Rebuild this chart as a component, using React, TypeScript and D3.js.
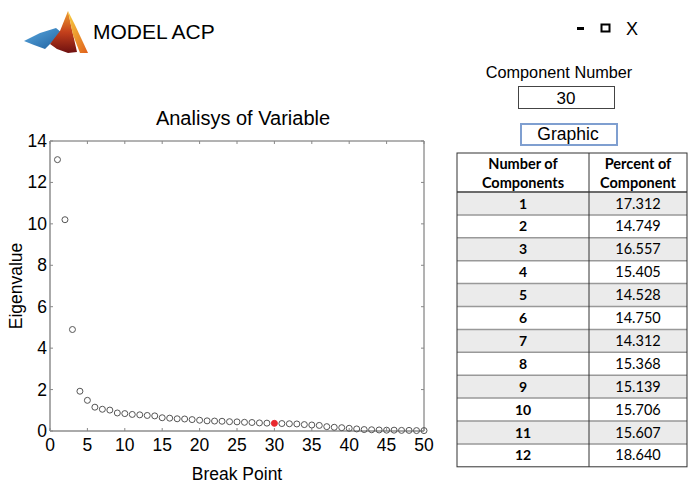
import React from "react";
import * as d3 from "d3";

const breakPoints = d3.range(1, 51);
const eigenvalues = [
  13.1, 10.2, 4.9, 1.92, 1.48, 1.15, 1.05, 1.01, 0.87, 0.84,
  0.8, 0.78, 0.75, 0.73, 0.64, 0.62, 0.59, 0.58, 0.55, 0.52,
  0.49, 0.48, 0.47, 0.45, 0.44, 0.42, 0.41, 0.39, 0.38, 0.37,
  0.36, 0.35, 0.34, 0.31, 0.29, 0.27, 0.21, 0.18, 0.16, 0.13,
  0.1, 0.07, 0.06, 0.05, 0.04, 0.04, 0.03, 0.03, 0.02, 0.02,
];
const selectedComponent = 30;
const xTicks = d3.range(0, 51, 5);
const yTicks = d3.range(0, 15, 2);

const tableComponents = ["1", "2", "3", "4", "5", "6", "7", "8", "9", "10", "11", "12"];
const tablePercents = ["17.312", "14.749", "16.557", "15.405", "14.528", "14.750", "14.312", "15.368", "15.139", "15.706", "15.607", "18.640"];

const FONT = "Arial, 'Liberation Sans', sans-serif";
const TFONT = "Lato, 'Open Sans', sans-serif";

export default function App() {
  const x = d3.scaleLinear().domain([0, 50]).range([50, 424]);
  const y = d3.scaleLinear().domain([0, 14]).range([431, 141]);

  const tLeft = 457, tMid = 589, tRight = 687, tTop = 153, headBottom = 192, rowH = 22.9;

  return (
    <div style={{ position: "absolute", left: 0, top: 0 }}>
      <svg width={692} height={486} style={{ display: "block", background: "#fff" }}>
        <defs>
          <linearGradient id="gBlue" x1="0" y1="0" x2="1" y2="1">
            <stop offset="0" stopColor="#5aa9e0" />
            <stop offset="1" stopColor="#1f5f9e" />
          </linearGradient>
          <linearGradient id="gRed" x1="0" y1="0" x2="0" y2="1">
            <stop offset="0" stopColor="#f0a030" />
            <stop offset="0.5" stopColor="#c4401c" />
            <stop offset="1" stopColor="#6e1010" />
          </linearGradient>
          <linearGradient id="gOrange" x1="0" y1="0" x2="1" y2="1">
            <stop offset="0" stopColor="#f8d040" />
            <stop offset="1" stopColor="#e0601c" />
          </linearGradient>
        </defs>

        {/* logo */}
        <g>
          <polygon points="24,41 40,33 56,28 62,33 52,42 45,49 34,45" fill="url(#gBlue)" />
          <polygon points="50,44 60,31 68,11 72,30 77,52 68,53 57,49" fill="url(#gRed)" />
          <polygon points="68,11 75,25 88,53 80,53 73,35" fill="url(#gOrange)" />
        </g>
        <text x={93} y={39} fontFamily={FONT} fontSize={21} fill="#000">MODEL ACP</text>

        {/* window controls */}
        <rect x={577} y={27} width={7} height={3} fill="#000" />
        <rect x={601.5} y={24.5} width={8} height={7} fill="none" stroke="#000" strokeWidth={2} />
        <text x={626} y={35} fontFamily={FONT} fontSize={18} fill="#000">X</text>

        {/* component number */}
        <text x={559} y={78} textAnchor="middle" fontFamily={FONT} fontSize={16.3} fill="#000">Component Number</text>
        <rect x={518.5} y={86.5} width={96} height={22} fill="#fff" stroke="#444" strokeWidth={1} />
        <text x={566} y={104} textAnchor="middle" fontFamily={FONT} fontSize={17} fill="#000">30</text>
        <rect x={521} y={124} width={96} height={21} fill="#fff" stroke="#7f9fd0" strokeWidth={2} />
        <text x={568} y={140} textAnchor="middle" fontFamily={FONT} fontSize={17.5} fill="#000">Graphic</text>

        {/* plot */}
        <text x={243} y={125} textAnchor="middle" fontFamily={FONT} fontSize={20} fill="#000">Analisys of Variable</text>
        <line x1={50} x2={424} y1={141} y2={141} stroke="#666" strokeWidth={1} />
        <line x1={424} x2={424} y1={141} y2={431} stroke="#666" strokeWidth={1} />
        <line x1={50} x2={50} y1={141} y2={431} stroke="#aaa" strokeWidth={2} />
        <line x1={50} x2={424} y1={431} y2={431} stroke="#aaa" strokeWidth={2} />
        {yTicks.map((t) => (
          <g key={"y" + t}>
            <line x1={50} x2={53} y1={y(t)} y2={y(t)} stroke="#888" />
            <line x1={421} x2={424} y1={y(t)} y2={y(t)} stroke="#888" />
            <text x={47} y={y(t) + 6} textAnchor="end" fontFamily={FONT} fontSize={17.5} fill="#000">{t}</text>
          </g>
        ))}
        {xTicks.map((t) => (
          <g key={"x" + t}>
            <line x1={x(t)} x2={x(t)} y1={141} y2={144} stroke="#888" />
            <line x1={x(t)} x2={x(t)} y1={428} y2={431} stroke="#888" />
            <text x={x(t)} y={451} textAnchor="middle" fontFamily={FONT} fontSize={17.5} fill="#000">{t}</text>
          </g>
        ))}
        {breakPoints.map((b, i) => (
          <circle
            key={b}
            cx={x(b)}
            cy={y(eigenvalues[i])}
            r={3}
            fill={b === selectedComponent ? "#e8282e" : "none"}
            stroke={b === selectedComponent ? "#e8282e" : "#555"}
            strokeWidth={1}
          />
        ))}
        <text x={237} y={480} textAnchor="middle" fontFamily={FONT} fontSize={17.5} fill="#000">Break Point</text>
        <text transform="translate(22,286) rotate(-90)" textAnchor="middle" fontFamily={FONT} fontSize={17.5} fill="#000">Eigenvalue</text>

        {/* table */}
        {tableComponents.map((c, i) => {
          const y0 = headBottom + i * rowH;
          return (
            <g key={"r" + c}>
              <rect x={tLeft} y={y0} width={tRight - tLeft} height={rowH} fill={i % 2 === 0 ? "#ebebeb" : "#fff"} />
              <line x1={tLeft} x2={tRight} y1={y0} y2={y0} stroke="#999" strokeWidth={1.5} />
              <text x={(tLeft + tMid) / 2} y={y0 + 16.5} textAnchor="middle" fontFamily={TFONT} fontWeight="bold" fontSize={14} fill="#000">{c}</text>
              <text x={(tMid + tRight) / 2} y={y0 + 16.5} textAnchor="middle" fontFamily={TFONT} fontSize={14.5} fill="#000">{tablePercents[i]}</text>
            </g>
          );
        })}
        <line x1={tLeft} x2={tRight} y1={headBottom} y2={headBottom} stroke="#555" strokeWidth={1.5} />
        <text x={(tLeft + tMid) / 2} y={169} textAnchor="middle" fontFamily={TFONT} fontWeight="bold" fontSize={14.5} fill="#000">Number of</text>
        <text x={(tLeft + tMid) / 2} y={188} textAnchor="middle" fontFamily={TFONT} fontWeight="bold" fontSize={14.5} fill="#000">Components</text>
        <text x={(tMid + tRight) / 2} y={169} textAnchor="middle" fontFamily={TFONT} fontWeight="bold" fontSize={14.5} fill="#000">Percent of</text>
        <text x={(tMid + tRight) / 2} y={188} textAnchor="middle" fontFamily={TFONT} fontWeight="bold" fontSize={14.5} fill="#000">Component</text>
        <line x1={tMid} x2={tMid} y1={tTop} y2={headBottom + 12 * rowH} stroke="#333" strokeWidth={1} />
        <rect x={tLeft} y={tTop} width={tRight - tLeft} height={headBottom + 12 * rowH - tTop} fill="none" stroke="#333" strokeWidth={1} />
      </svg>
    </div>
  );
}
